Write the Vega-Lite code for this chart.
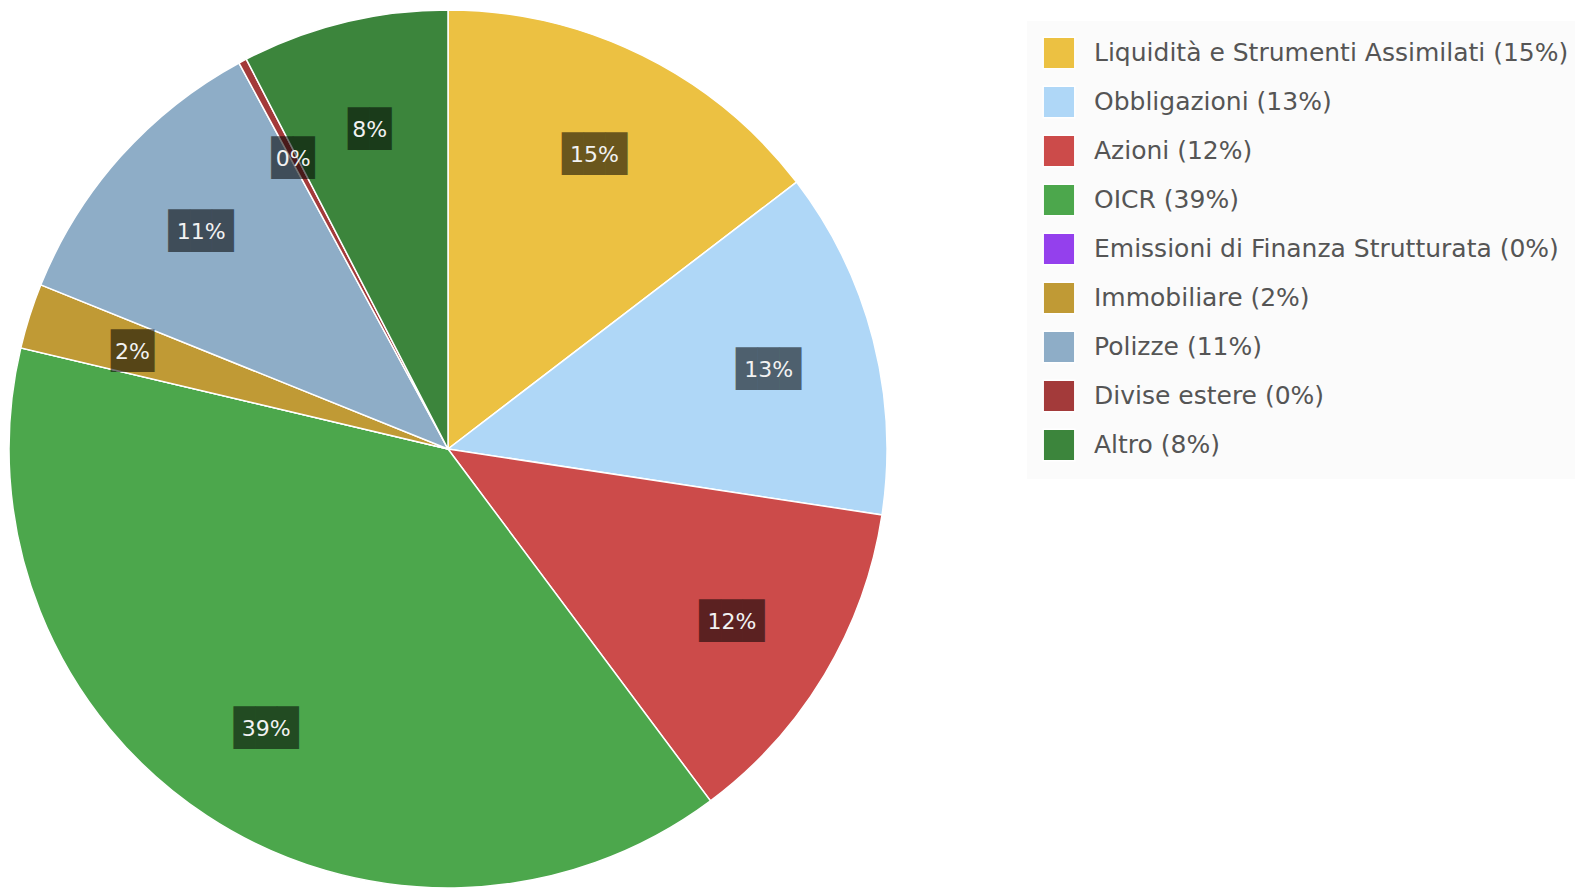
{
  "$schema": "https://vega.github.io/schema/vega-lite/v6.json",
  "width": 896,
  "height": 878,
  "padding": {"top": 10, "left": 0, "right": 679, "bottom": 0},
  "autosize": {"type": "none"},
  "background": "white",
  "config": {"view": {"stroke": null}},
  "data": {
    "values": [
      {"idx": 1, "category": "Liquidità e Strumenti Assimilati (15%)", "value": 0.146},
      {"idx": 2, "category": "Obbligazioni (13%)", "value": 0.128},
      {"idx": 3, "category": "Azioni (12%)", "value": 0.124},
      {"idx": 4, "category": "OICR (39%)", "value": 0.389},
      {"idx": 5, "category": "Emissioni di Finanza Strutturata (0%)", "value": 0},
      {"idx": 6, "category": "Immobiliare (2%)", "value": 0.024},
      {"idx": 7, "category": "Polizze (11%)", "value": 0.110},
      {"idx": 8, "category": "Divise estere (0%)", "value": 0.003},
      {"idx": 9, "category": "Altro (8%)", "value": 0.076}
    ]
  },
  "encoding": {
    "theta": {"field": "value", "type": "quantitative", "stack": true},
    "order": {"field": "idx", "type": "quantitative"}
  },
  "layer": [
    {
      "mark": {"type": "arc", "outerRadius": 439, "stroke": "white", "strokeWidth": 1.5},
      "encoding": {
        "color": {
          "field": "category",
          "type": "nominal",
          "sort": null,
          "scale": {
            "domain": ["Liquidità e Strumenti Assimilati (15%)", "Obbligazioni (13%)", "Azioni (12%)", "OICR (39%)", "Emissioni di Finanza Strutturata (0%)", "Immobiliare (2%)", "Polizze (11%)", "Divise estere (0%)", "Altro (8%)"],
            "range": ["#ECC142", "#AFD7F7", "#CC4B4A", "#4CA74C", "#9440ED", "#C09A35", "#8EADC7", "#A33A3A", "#3C853C"]
          },
          "legend": {
            "title": null,
            "orient": "none",
            "legendX": 1027,
            "legendY": 11,
            "symbolType": "square",
            "symbolSize": 1000,
            "labelFont": "DejaVu Sans",
            "labelFontSize": 25,
            "labelColor": "#555555",
            "labelOffset": 18,
            "labelLimit": 0,
            "rowPadding": 11,
            "padding": 15,
            "fillColor": "#fbfbfb",
            "symbolOpacity": 1,
            "encode": {
              "symbols": {"update": {"stroke": {"value": "#cccccc"}, "strokeWidth": {"value": 2}}}
            }
          }
        }
      }
    },
    {
      "transform": [
        {"filter": "datum.value > 0"},
        {"calculate": "length(format(datum.value, '.0%')) == 3 ? '███' : '██'", "as": "box"}
      ],
      "mark": {"type": "text", "radius": 331, "dy": 3, "font": "DejaVu Sans Mono", "fontSize": 36, "color": "black", "opacity": 0.55},
      "encoding": {"text": {"field": "box", "type": "nominal"}}
    },
    {
      "transform": [{"filter": "datum.value > 0"}],
      "mark": {"type": "text", "radius": 331, "dy": 3, "font": "DejaVu Sans", "fontSize": 22, "color": "#f2f2f2"},
      "encoding": {"text": {"field": "value", "type": "quantitative", "format": ".0%"}}
    }
  ]
}
